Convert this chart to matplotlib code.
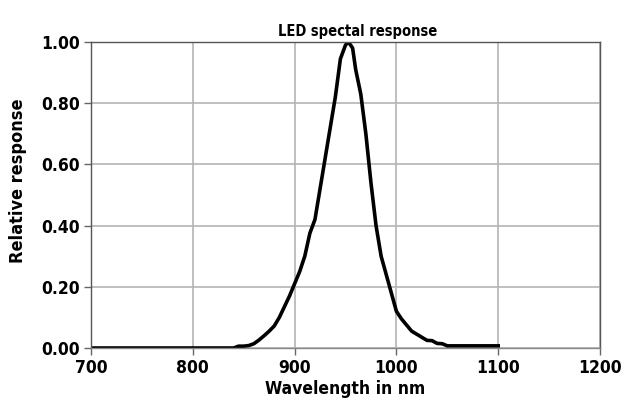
import matplotlib.pyplot as plt
from matplotlib.ticker import FormatStrFormatter
from matplotlib import font_manager

names = {f.name for f in font_manager.fontManager.ttflist}
fam = 'Liberation Sans Narrow' if 'Liberation Sans Narrow' in names else 'DejaVu Sans'
plt.rcParams['font.family'] = fam
plt.rcParams['font.weight'] = 'bold'
plt.rcParams['font.stretch'] = 'condensed'

# wavelength (nm) and relative response
wavelength = [700, 720, 740, 760, 780, 800, 820, 840, 845, 850, 855, 860, 865, 870,
              875, 880, 885, 890, 895, 900, 905, 910, 915, 920, 925, 930, 935, 940,
              945, 950, 953, 957, 960, 965, 970, 975, 980, 985, 990, 995, 1000,
              1005, 1010, 1015, 1020, 1025, 1030, 1035, 1040, 1045, 1050, 1075, 1100]
response = [0.0, 0.0, 0.0, 0.0, 0.0, 0.0, 0.0, 0.0, 0.006, 0.006, 0.008, 0.014, 0.026, 0.04,
            0.055, 0.072, 0.10, 0.135, 0.17, 0.21, 0.25, 0.30, 0.375, 0.42, 0.52, 0.62, 0.72, 0.82,
            0.945, 0.99, 1.0, 0.98, 0.91, 0.83, 0.70, 0.54, 0.40, 0.30, 0.24, 0.18, 0.12,
            0.095, 0.075, 0.055, 0.045, 0.035, 0.025, 0.024, 0.015, 0.014, 0.007, 0.007, 0.007]

fig = plt.figure(figsize=(6.22, 4.19), dpi=100)
ax = fig.add_axes([91/622, 1-348/419, (600-91)/622, (348-42)/419])

ax.plot(wavelength, response, color='black', lw=2.6, solid_joinstyle='round')

ax.set_xlim(700, 1200)
ax.set_ylim(0, 1.0)
ax.set_xticks([700, 800, 900, 1000, 1100, 1200])
ax.set_yticks([0, 0.2, 0.4, 0.6, 0.8, 1.0])
ax.yaxis.set_major_formatter(FormatStrFormatter('%.2f'))
ax.grid(True, color='#b4b4b4', lw=1.2)
ax.set_axisbelow(True)
for s in ax.spines.values():
    s.set_color('#555555')
    s.set_linewidth(1.0)
ax.spines['bottom'].set_color('#888888')
ax.tick_params(axis='both', length=5, width=1, color='#666666', labelsize=12.5, pad=3)
for lab in ax.get_xticklabels() + ax.get_yticklabels():
    lab.set_fontweight('bold')
    lab.set_fontstretch('condensed')

ax.set_title('LED spectal response', fontsize=10.5, fontweight='bold', x=(358-91)/509, pad=4)
ax.set_xlabel('Wavelength in nm', fontsize=12.5, fontweight='bold', labelpad=2)
ax.set_ylabel('Relative response', fontsize=13, fontweight='bold')
ax.yaxis.set_label_coords(-(91-27)/509, (348-181)/306)

fig.savefig('out.png', dpi=100)
